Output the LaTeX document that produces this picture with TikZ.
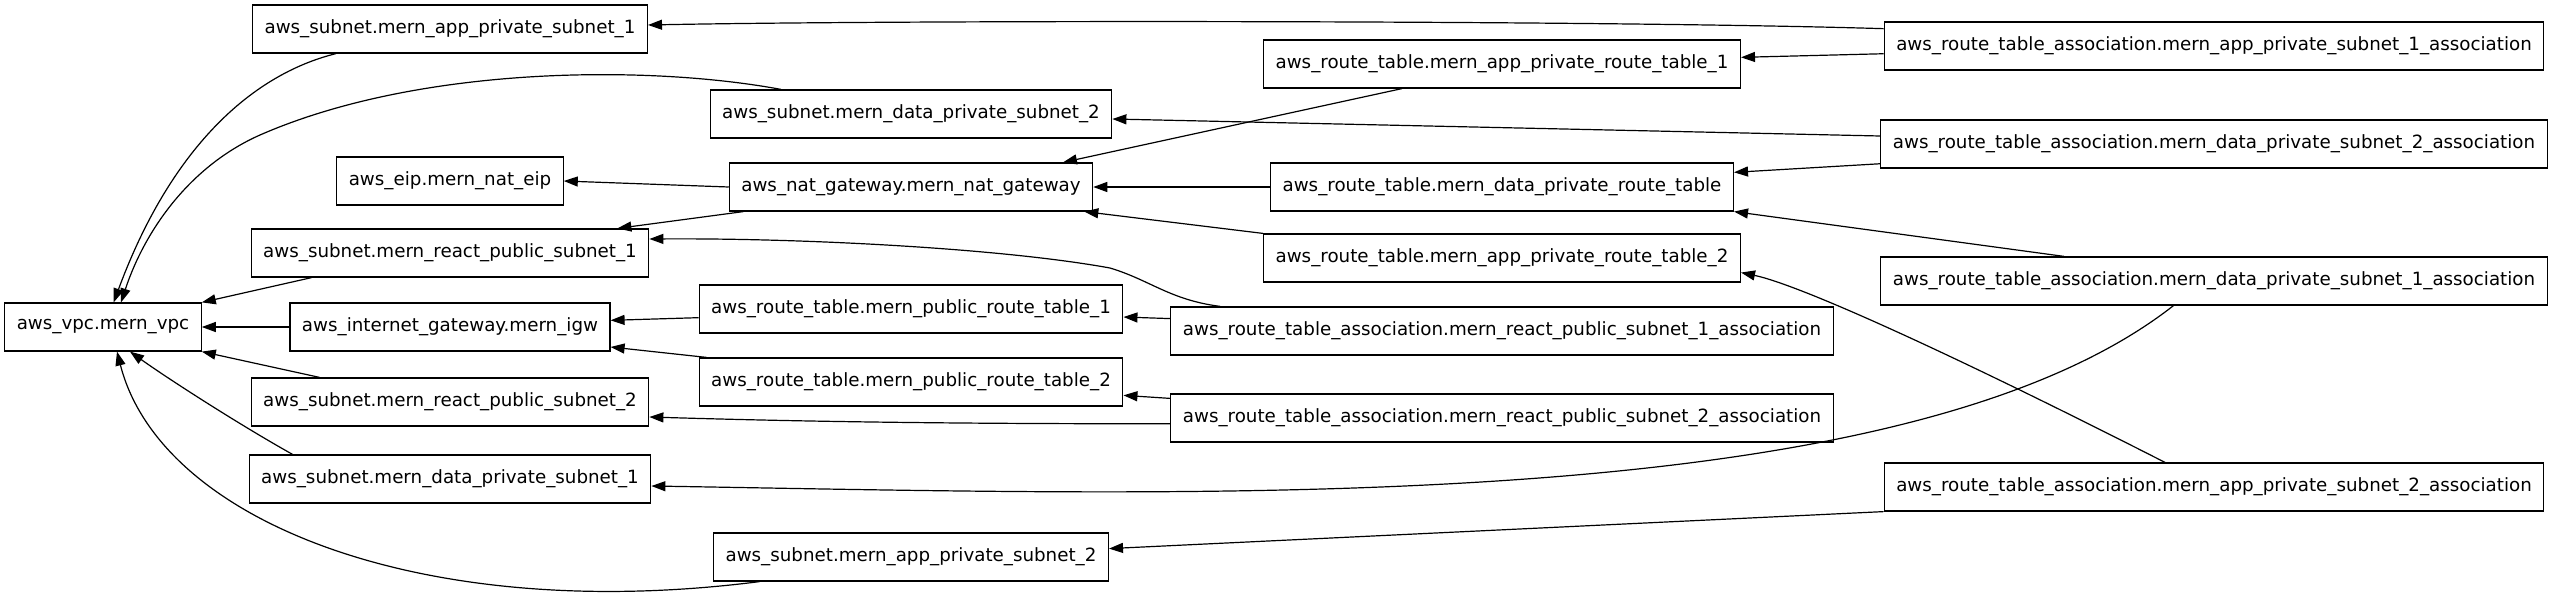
\documentclass[tikz,border=0pt]{standalone}
\usepackage{fontspec}
\setmainfont{DejaVu Sans}
\usetikzlibrary{arrows.meta}
\begin{document}
\begin{tikzpicture}[x=0.75pt, y=-0.75pt,
    res/.style={draw, line width=0.9pt, minimum height=36pt, inner xsep=9pt, inner ysep=0pt,
      font=\fontsize{13.7pt}{16pt}\selectfont},
    dep/.style={-{Triangle[length=10.5pt,width=7.5pt]}, line width=0.9pt}]
  \useasboundingbox (0,0) rectangle (2553,593);

  % VPC
  \node[res] (vpc) at (103,327) {aws\_vpc.mern\_vpc};

  % Subnets, gateways, eip
  \node[res] (appsub1) at (450,29) {aws\_subnet.mern\_app\_private\_subnet\_1};
  \node[res] (eip) at (450,181) {aws\_eip.mern\_nat\_eip};
  \node[res] (reactsub1) at (450,253) {aws\_subnet.mern\_react\_public\_subnet\_1};
  \node[res] (igw) at (450,327) {aws\_internet\_gateway.mern\_igw};
  \node[res] (reactsub2) at (450,402) {aws\_subnet.mern\_react\_public\_subnet\_2};
  \node[res] (datasub1) at (450,479) {aws\_subnet.mern\_data\_private\_subnet\_1};

  \node[res] (datasub2) at (911,114) {aws\_subnet.mern\_data\_private\_subnet\_2};
  \node[res] (natgw) at (911,187) {aws\_nat\_gateway.mern\_nat\_gateway};
  \node[res] (pubrt1) at (911,309) {aws\_route\_table.mern\_public\_route\_table\_1};
  \node[res] (pubrt2) at (911,382) {aws\_route\_table.mern\_public\_route\_table\_2};
  \node[res] (appsub2) at (911,557) {aws\_subnet.mern\_app\_private\_subnet\_2};

  % Route tables
  \node[res] (apprt1) at (1502,64) {aws\_route\_table.mern\_app\_private\_route\_table\_1};
  \node[res] (datart) at (1502,187) {aws\_route\_table.mern\_data\_private\_route\_table};
  \node[res] (apprt2) at (1502,258) {aws\_route\_table.mern\_app\_private\_route\_table\_2};
  \node[res] (reactassoc1) at (1502,331) {aws\_route\_table\_association.mern\_react\_public\_subnet\_1\_association};
  \node[res] (reactassoc2) at (1502,418) {aws\_route\_table\_association.mern\_react\_public\_subnet\_2\_association};

  % Associations
  \node[res] (appassoc1) at (2214,46) {aws\_route\_table\_association.mern\_app\_private\_subnet\_1\_association};
  \node[res] (dataassoc2) at (2214,144) {aws\_route\_table\_association.mern\_data\_private\_subnet\_2\_association};
  \node[res] (dataassoc1) at (2214,281) {aws\_route\_table\_association.mern\_data\_private\_subnet\_1\_association};
  \node[res] (appassoc2) at (2214,487) {aws\_route\_table\_association.mern\_app\_private\_subnet\_2\_association};

  % Edges into vpc
  \draw[dep] ([xshift=-85.5pt]appsub1.south) .. controls (250,75) and (170,150) .. ([xshift=8pt]vpc.north);
  \draw[dep] ([xshift=-97.5pt]datasub2.north) .. controls (650,65) and (420,65) .. (260,135)
    .. controls (190,166) and (145,230) .. ([xshift=13.5pt]vpc.north);
  \draw[dep] ([xshift=45.75pt]reactsub1.south west) -- (vpc.north east);
  \draw[dep] (igw.west) -- (vpc.east);
  \draw[dep] ([xshift=51.75pt]reactsub2.north west) -- (vpc.south east);
  \draw[dep] ([xshift=33pt]datasub1.north west) .. controls (240,425) and (170,380) .. ([xshift=20.25pt]vpc.south);
  \draw[dep] ([xshift=35pt]appsub2.south west) .. controls (420,625) and (160,520) .. ([xshift=10.5pt]vpc.south);

  % Nat gateway and route tables
  \draw[dep] (natgw.west) -- (eip.east);
  \draw[dep] ([xshift=11pt]natgw.south west) -- ([xshift=-24pt]reactsub1.north east);
  \draw[dep] ([xshift=-75pt]apprt1.south) -- ([xshift=114pt]natgw.north);
  \draw[dep] (datart.west) -- (natgw.east);
  \draw[dep] (apprt2.north west) -- ([xshift=-6.7pt]natgw.south east);
  \draw[dep] ([yshift=-6.5pt]pubrt1.west) -- ([yshift=5pt]igw.east);
  \draw[dep] ([xshift=6pt]pubrt2.north west) -- ([yshift=-15pt]igw.east);

  % Associations
  \draw[dep] ([yshift=13pt]appassoc1.west) .. controls (1600,20) and (900,20) .. ([yshift=3pt]appsub1.east);
  \draw[dep] ([yshift=-5.8pt]appassoc1.west) -- ([yshift=5pt]apprt1.east);
  \draw[dep] ([yshift=6pt]dataassoc2.west) -- ([yshift=-3.75pt]datasub2.east);
  \draw[dep] ([yshift=-14.8pt]dataassoc2.west) -- ([yshift=11pt]datart.east);
  \draw[dep] ([xshift=-112.4pt]dataassoc1.north) -- (datart.south east);
  \draw[dep] ([xshift=-30.4pt]dataassoc1.south) .. controls (1900,520) and (1200,495) .. ([yshift=-5.25pt]datasub1.east);
  \draw[dep] ([xshift=-36.75pt]appassoc2.north) .. controls (1950,353) and (1800,285) .. ([yshift=-10.9pt]apprt2.east);
  \draw[dep] (appassoc2.south west) -- ([yshift=6.3pt]appsub2.east);
  \draw[dep] ([yshift=9.3pt]reactassoc1.west) -- ([yshift=-6pt]pubrt1.east);
  \draw[dep] ([xshift=37.5pt]reactassoc1.north west) .. controls (1170,300) and (1150,280) .. (1110,268)
    .. controls (1000,248) and (800,238) .. ([yshift=10.5pt]reactsub1.east);
  \draw[dep] ([yshift=14.7pt]reactassoc2.west) -- ([yshift=-10pt]pubrt2.east);
  \draw[dep] ([yshift=-4.3pt]reactassoc2.west) .. controls (900,424) and (750,420) .. ([yshift=-11.25pt]reactsub2.east);
\end{tikzpicture}
\end{document}
